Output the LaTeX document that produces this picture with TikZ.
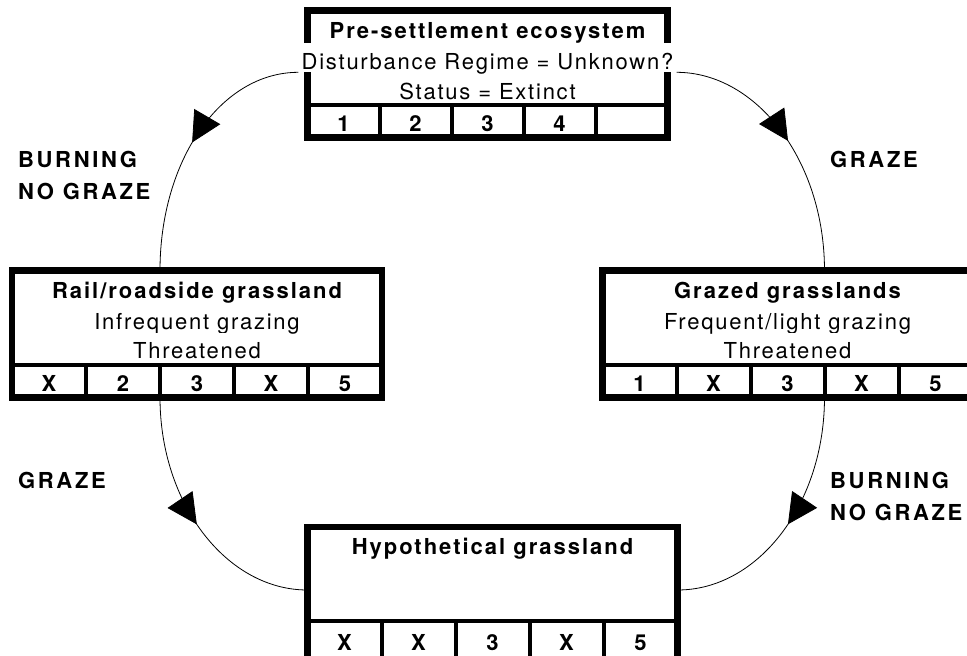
\documentclass[tikz,border=0pt]{standalone}
\usepackage{fontspec}
\setmainfont{TeX Gyre Heros}
\newfontfamily\plainfam{TeX Gyre Heros}[LetterSpace=8]
\newfontfamily\heavyfam{TeX Gyre Heros}[LetterSpace=9]
\newfontfamily\cuefam{TeX Gyre Heros}[LetterSpace=12]
\usetikzlibrary{positioning, arrows.meta, decorations.markings}

\begin{document}
\begin{tikzpicture}[x=1pt, y=-1pt,
panel/.style={rectangle, minimum width=#1, minimum height=94pt, anchor=north west, inner sep=0pt, outer sep=0pt},
cell/.style={rectangle, draw, line width=4pt, minimum width=#1, minimum height=33pt, inner sep=0pt, outer sep=0pt, text height=20pt, text depth=0pt, font=\heavyfam\bfseries\fontsize{22pt}{26pt}\selectfont},
cell/.default=74pt,
boxrim/.style={line width=6.5pt},
heading/.style={inner sep=0pt, text height=16pt, text depth=4.5pt, font=\heavyfam\bfseries\fontsize{22pt}{26pt}\selectfont},
detail/.style={fill=white, inner sep=0pt, inner xsep=3pt, text height=26pt, text depth=3pt, font=\plainfam\fontsize{22pt}{26pt}\selectfont},
cue/.style={inner sep=0pt, anchor=north west, align=left, font=\cuefam\bfseries\fontsize{22pt}{32pt}\selectfont},
flow/.style={line width=0.8pt, postaction={decorate}, decoration={markings, mark=at position 0.5 with {\arrow{Triangle[length=30pt, width=30pt]}}}},
]
\useasboundingbox (0,0) rectangle (967,656);
\clip (0,0) rectangle (967,656);

%Boxes
\node[panel=360pt] (pre) at (307.5,10.5) {};
\node[cell=72pt] (pre1) [below right=0pt of pre.south west] {1};
\node[cell=72pt] (pre2) [right=0pt of pre1] {2};
\node[cell=72pt] (pre3) [right=0pt of pre2] {3};
\node[cell=72pt] (pre4) [right=0pt of pre3] {4};
\node[cell=72pt] (pre5) [right=0pt of pre4] {};

\node[panel=370pt] (rail) at (12,270.5) {};
\node[cell] (rail1) [below right=0pt of rail.south west] {X};
\node[cell] (rail2) [right=0pt of rail1] {2};
\node[cell] (rail3) [right=0pt of rail2] {3};
\node[cell] (rail4) [right=0pt of rail3] {X};
\node[cell] (rail5) [right=0pt of rail4] {5};

\node[panel=370pt] (grazed) at (602.5,270.5) {};
\node[cell] (grazed1) [below right=0pt of grazed.south west] {1};
\node[cell] (grazed2) [right=0pt of grazed1] {X};
\node[cell] (grazed3) [right=0pt of grazed2] {3};
\node[cell] (grazed4) [right=0pt of grazed3] {X};
\node[cell] (grazed5) [right=0pt of grazed4] {5};

\node[panel=370pt] (hypo) at (307.5,527) {};
\node[cell, minimum height=38pt] (hypo1) [below right=0pt of hypo.south west] {X};
\node[cell, minimum height=38pt] (hypo2) [right=0pt of hypo1] {X};
\node[cell, minimum height=38pt] (hypo3) [right=0pt of hypo2] {3};
\node[cell, minimum height=38pt] (hypo4) [right=0pt of hypo3] {X};
\node[cell, minimum height=38pt] (hypo5) [right=0pt of hypo4] {5};

%Frames
\draw[boxrim] (pre.north west) rectangle (pre5.south east);
\draw[boxrim] (rail.north west) rectangle (rail5.south east);
\draw[boxrim] (grazed.north west) rectangle (grazed5.south east);
\draw[boxrim] (hypo.north west) rectangle (hypo5.south east);

%Texts
\node[heading] (preHead) [below=11.5pt of pre.north] {Pre-settlement ecosystem};
\node[detail] (preRegime) [below=0pt of preHead] {Disturbance Regime = Unknown?};
\node[detail] (preStatus) [below=1pt of preRegime] {Status = Extinct};

\node[heading] (railHead) [below=11.5pt of rail.north] {Rail/roadside grassland};
\node[detail] (railUse) [below=0pt of railHead] {Infrequent grazing};
\node[detail] (railStatus) [below=0pt of railUse] {Threatened};

\node[heading] (grazedHead) [below=11.5pt of grazed.north] {Grazed grasslands};
\node[detail] (grazedUse) [below=0pt of grazedHead] {Frequent/light grazing};
\node[detail] (grazedStatus) [below=0pt of grazedUse] {Threatened};

\node[heading] (hypoHead) [below=11.5pt of hypo.north] {Hypothetical grassland};

%Labels
\node[cue] (burnTop) at (18,151.2) {BURNING\\NO GRAZE};
\node[cue] (grazeTop) at (830,151.2) {GRAZE};
\node[cue] (grazeLow) at (18,472.2) {GRAZE};
\node[cue] (burnLow) at (830,472.2) {BURNING\\NO GRAZE};

%Lines
\coordinate (railTop) at (rail2.east |- rail.north);
\coordinate (grazedTop) at (grazed3.east |- grazed.north);
\coordinate (hypoLeft) at ([yshift=-16pt]hypo.west);
\coordinate (hypoRight) at ([yshift=-16pt]hypo.east);
\draw[flow] (preRegime.south west) to[out=180, in=90, out distance=78pt, in distance=110pt] (railTop);
\draw[flow] (preRegime.south east) to[out=0, in=90, out distance=80pt, in distance=110pt] (grazedTop);
\draw[flow] (rail2.south east) to[out=270, in=180, out distance=106pt, in distance=81pt] (hypoLeft);
\draw[flow] (grazed3.south east) to[out=270, in=0, out distance=106pt, in distance=81pt] (hypoRight);
\end{tikzpicture}
\end{document}
